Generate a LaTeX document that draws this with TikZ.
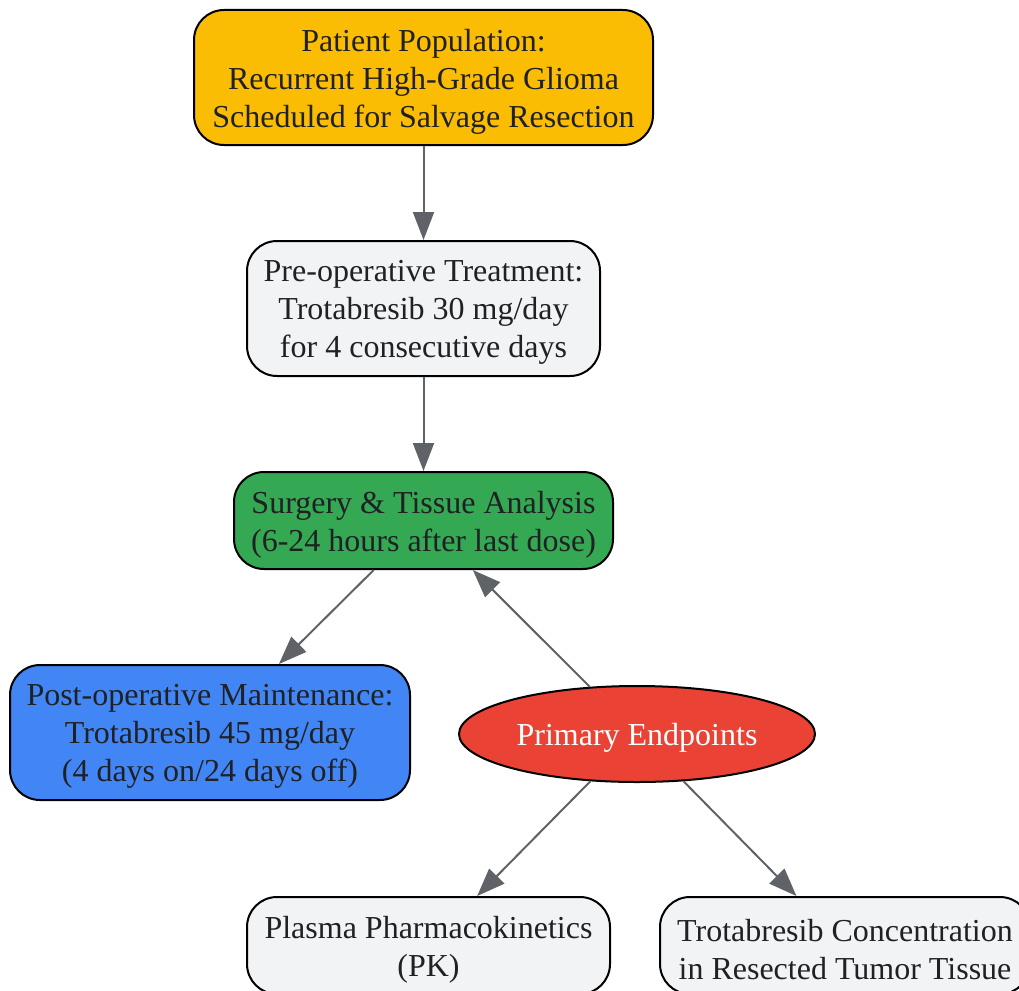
\documentclass[tikz,border=0pt]{standalone}
\usepackage{fontspec}
\setmainfont{Liberation Serif}
\usetikzlibrary{shapes.geometric,arrows.meta}
\definecolor{txt}{HTML}{202124}
\definecolor{edge}{HTML}{5F6368}
\definecolor{cYellow}{HTML}{FBBC04}
\definecolor{cGrey}{HTML}{F1F3F4}
\definecolor{cGreen}{HTML}{34A853}
\definecolor{cBlue}{HTML}{4285F4}
\definecolor{cRed}{HTML}{EA4335}
\begin{document}
\begin{tikzpicture}[x=1pt,y=-1pt,
  lbl/.style={align=center,inner sep=0pt,yshift=-4pt,font=\fontsize{32}{38}\selectfont},
  box/.style={draw=black,line width=2pt,rounded corners=30pt,inner sep=0pt,
    label={[lbl,text=txt]center:#1}},
  oval/.style={ellipse,draw=black,line width=2pt,inner sep=0pt,
    label={[lbl,text=white]center:#1}},
  conn/.style={draw=edge,line width=2pt,-{Triangle[length=28pt,width=21pt]}}]
\useasboundingbox (0,0) rectangle (1019,990);
\begin{scope}
\clip (0,0) rectangle (1019,990);
\node[box={Patient Population:\\Recurrent High-Grade Glioma\\Scheduled for Salvage Resection},
  fill=cYellow,minimum width=459pt,minimum height=135pt] (pop) at (423.5,77.5) {};
\node[box={Pre-operative Treatment:\\Trotabresib 30 mg/day\\for 4 consecutive days},
  fill=cGrey,minimum width=353pt,minimum height=135pt] (pre) at (423.5,308.5) {};
\node[box={Surgery \& Tissue Analysis\\(6-24 hours after last dose)},
  fill=cGreen,minimum width=379pt,minimum height=97pt] (surg) at (423.5,520.5) {};
\node[box={Post-operative Maintenance:\\Trotabresib 45 mg/day\\(4 days on/24 days off)},
  fill=cBlue,minimum width=400pt,minimum height=135pt] (post) at (210,732.5) {};
\node[oval={Primary Endpoints},fill=cRed,minimum width=356pt,minimum height=96pt] (prim) at (637,734) {};
\node[box={Plasma Pharmacokinetics\\(PK)},
  fill=cGrey,minimum width=363pt,minimum height=97pt] (pk) at (428.5,945.5) {};
\node[box={Trotabresib Concentration\\in Resected Tumor Tissue},
  fill=cGrey,minimum width=370pt,minimum height=97pt] (conc) at (845,945.5) {};
\draw[conn] (pop) -- (pre);
\draw[conn] (pre) -- (surg);
\draw[conn] (surg) -- (post);
\draw[conn] (prim) -- (surg);
\draw[conn] (prim) -- (pk);
\draw[conn] (prim) -- (conc);
\end{scope}
\end{tikzpicture}
\end{document}
